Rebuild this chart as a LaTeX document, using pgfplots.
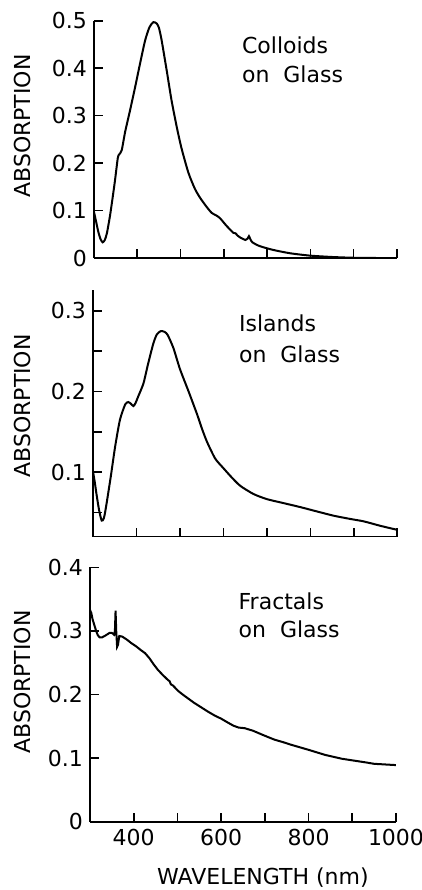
\documentclass[border=0pt]{standalone}
\usepackage{fontspec}
\setmainfont{DejaVu Sans}
\usepackage{pgfplots}
\pgfplotsset{compat=1.18}

\newcommand{\lbl}{\fontsize{11}{13}\selectfont}

\pgfplotsset{
  panel/.style={
    scale only axis,
    axis lines=left,
    axis line style={-, line width=0.8pt},
    xmin=300, xmax=1000,
    xtick={400,500,...,1000},
    tick align=inside,
    major tick length=4.3pt,
    tick style={line width=0.8pt, black},
    every tick label/.append style={font=\lbl},
    ylabel={ABSORPTION},
    ylabel style={font=\lbl, anchor=center},
  },
  curve/.style={black, line width=1pt, no marks},
}

\begin{document}
\begin{tikzpicture}
\path[use as bounding box] (0,0) rectangle (211pt,445pt);

% colloids
\begin{axis}[panel, at={(47pt,316pt)}, anchor=south west,
    width=151.5pt, height=118.65pt,
    ymin=0, ymax=0.5,
    ytick={0,0.1,0.2,0.3,0.4,0.5},
    yticklabels={0,0.1,0.2,0.3,0.4,0.5},
    xticklabels={,,},
    ylabel style={at={(axis description cs:-0.235,0.556)}}]
  \addplot[curve, smooth, tension=0.4] coordinates {
    (300,0.097) (305,0.076) (310,0.055) (315,0.040) (320,0.033) (325,0.038)
    (330,0.053) (338,0.095) (348,0.160) (355,0.211) (358,0.218) (364,0.227)
    (372,0.266) (383,0.310) (395,0.360) (406,0.408) (418,0.458) (428,0.486)
    (437,0.497) (445,0.494) (450,0.485) (456,0.460) (468,0.395) (479,0.333)
    (491,0.277) (502,0.232) (518,0.180) (533,0.146) (545,0.127) (560,0.108)
    (572,0.095) (582,0.090) (591,0.084) (606,0.068) (622,0.053) (627,0.052)
    (632,0.047) (640,0.042) (650,0.038) (655,0.041) (658,0.046) (661,0.040)
    (666,0.033) (683,0.025) (714,0.017) (753,0.010) (799,0.005) (853,0.002)
    (900,0.0005) (950,0) (1000,0)
  };
\end{axis}
\node[anchor=base west, font=\lbl] at (117.5pt,418pt) {Colloids};
\node[anchor=base west, font=\lbl] at (117.5pt,403.6pt) {on~~Glass};

% islands
\begin{axis}[panel, at={(46.5pt,176.65pt)}, anchor=south west,
    width=152.15pt, height=123.35pt,
    ymin=0.02, ymax=0.326,
    ytick={0.05,0.1,0.15,0.2,0.25,0.3},
    yticklabels={,0.1,,0.2,,0.3},
    xticklabels={,,},
    ylabel style={at={(axis description cs:-0.231,0.53)}}]
  \addplot[curve, smooth, tension=0.4] coordinates {
    (300,0.101) (304,0.088) (308,0.073) (314,0.053) (320,0.040) (325,0.043)
    (330,0.057) (341,0.095) (351,0.132) (362,0.165) (374,0.184) (381,0.187)
    (387,0.185) (393,0.182) (398,0.186) (404,0.194) (416,0.210) (427,0.235)
    (439,0.260) (447,0.271) (456,0.275) (465,0.274) (472,0.270) (485,0.254)
    (500,0.228) (520,0.200) (540,0.171) (550,0.155) (562,0.138) (581,0.117)
    (600,0.105) (620,0.093) (639,0.083) (669,0.073) (700,0.0666) (738,0.0617)
    (777,0.0567) (816,0.0512) (854,0.046) (892,0.042) (923,0.039) (961,0.0335)
    (1000,0.0285)
  };
\end{axis}
\node[anchor=base west, font=\lbl] at (116pt,279.2pt) {Islands};
\node[anchor=base west, font=\lbl] at (116pt,263.6pt) {on~~Glass};

% fractals
\begin{axis}[panel, at={(45pt,34.15pt)}, anchor=south west,
    width=153pt, height=127.2pt,
    ymin=0, ymax=0.4,
    ytick={0,0.1,0.2,0.3,0.4},
    yticklabels={0,0.1,0.2,0.3,0.4},
    xticklabels={400,,600,,800,,1000},
    xlabel={WAVELENGTH (nm)},
    xlabel style={font=\lbl, at={(axis description cs:0.565,-0.2488)}, anchor=base},
    ylabel style={at={(axis description cs:-0.222,0.549)}}]
  \addplot[curve] coordinates {
    (300,0.333) (303,0.328) (306,0.318) (310,0.309) (314,0.300) (318,0.293)
    (322,0.290) (328,0.290) (336,0.293) (345,0.297) (350,0.297) (355,0.294)
    (357,0.300) (358.5,0.332) (360,0.300) (362,0.275) (364,0.278) (367,0.292)
    (374,0.291) (385,0.286) (394,0.281) (405,0.276) (416,0.270) (426,0.265)
    (436,0.257) (445,0.248) (455,0.239) (466,0.231) (478,0.223) (482,0.221)
    (485,0.216) (490,0.214) (501,0.206) (512,0.200) (524,0.194) (538,0.187)
    (554,0.180) (570,0.173) (585,0.167) (600,0.162) (615,0.156) (628,0.151)
    (640,0.148) (654,0.147) (673,0.143) (690,0.138) (704,0.134) (722,0.129)
    (742,0.125) (760,0.121) (780,0.117) (800,0.113) (819,0.109) (838,0.105)
    (857,0.102) (876,0.099) (895,0.097) (914,0.095) (933,0.093) (950,0.091)
    (963,0.0905) (980,0.0898) (1000,0.089)
  };
\end{axis}
\node[anchor=base west, font=\lbl] at (115.8pt,140.3pt) {Fractals};
\node[anchor=base west, font=\lbl] at (115.8pt,126.1pt) {on~~Glass};
\end{tikzpicture}
\end{document}
